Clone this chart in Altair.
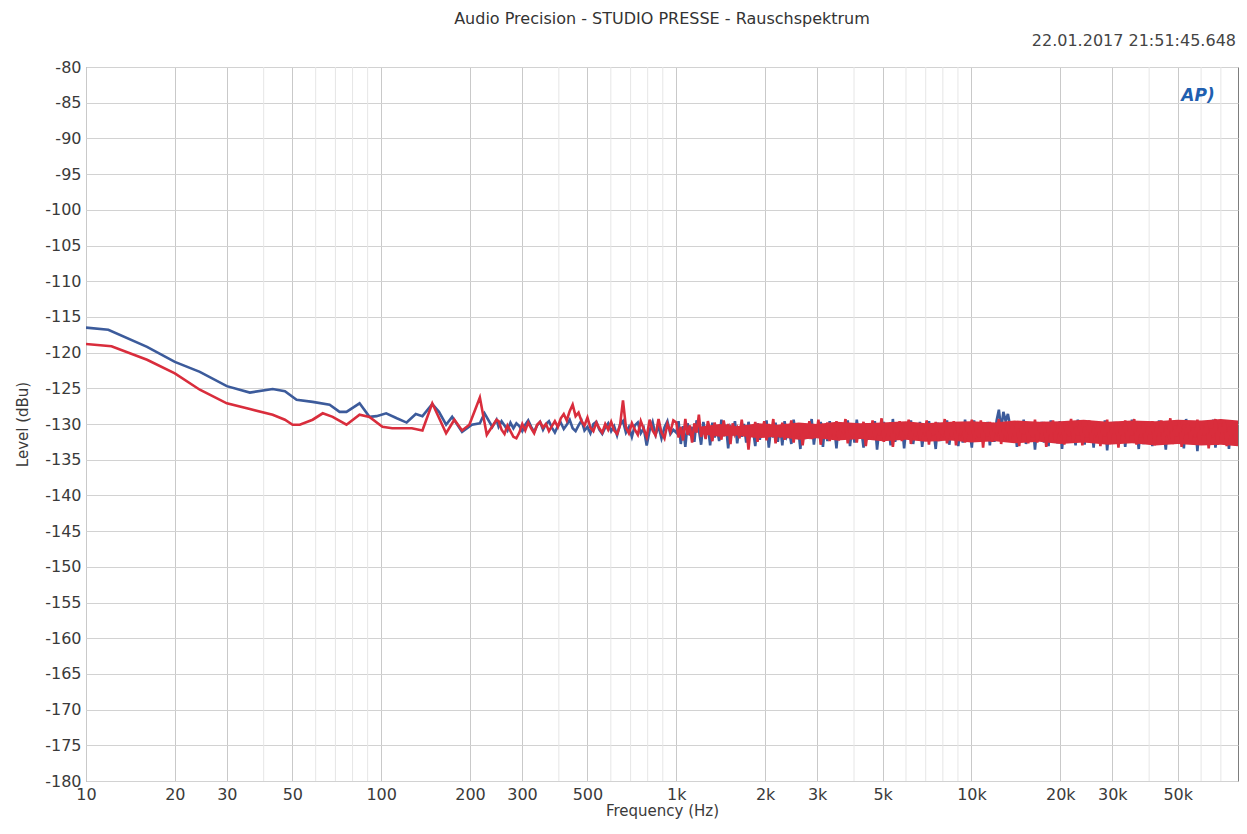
import altair as alt
import pandas as pd
import numpy as np

title_text = "Audio Precision - STUDIO PRESSE - Rauschspektrum"
timestamp_text = "22.01.2017 21:51:45.648"
x_title = "Frequency (Hz)"
y_title = "Level (dBu)"

# ---- Ch1 (blue), low-frequency part
blue_lf_freq = [10, 11.9, 16.1, 20.0, 24.3, 30.0, 35.9, 42.9, 47.2, 51.7,
                58.6, 66.9, 72.3, 76.3, 84.5, 91.3, 96.5, 104, 113, 122,
                131, 138, 149, 157, 166, 174, 188, 203, 216, 224, 238, 246]
blue_lf_level = [-116.5, -116.8, -119.2, -121.3, -122.7, -124.7, -125.6, -125.1, -125.4, -126.6,
                 -126.9, -127.3, -128.3, -128.3, -127.1, -129.0, -128.9, -128.5, -129.2, -129.8,
                 -128.6, -128.9, -127.2, -128.3, -130.1, -129.0, -131.1, -130.1, -129.9, -128.5,
                 -130.4, -129.4]

# ---- Ch2 (red), low-frequency part
red_lf_freq = [10, 12.2, 16.1, 20.0, 24.3, 30.0, 35.9, 42.9, 47.2, 50.1,
               53, 58.6, 63.4, 68.5, 76.3, 84.5, 91.3, 101, 109, 127,
               138, 149, 166, 177, 188, 199, 216, 228, 246]
red_lf_level = [-118.8, -119.1, -121.0, -122.9, -125.2, -127.1, -127.9, -128.7, -129.4, -130.1,
                -130.1, -129.4, -128.5, -129.0, -130.1, -128.7, -129.0, -130.4, -130.6, -130.6,
                -130.9, -127.1, -131.3, -129.4, -130.9, -130.1, -126.3, -131.5, -129.4]

# ---- FFT bins 250 Hz .. 1 kHz (levels)
blue_mid = [-130.4, -129.6, -130.2, -130.9, -129.8, -130.6, -129.9, -130.3, -131.0, -130.1,
            -129.5, -130.4, -131.1, -130.2, -129.7, -130.8, -130.0, -129.6, -130.5, -131.2,
            -130.3, -129.8, -130.7, -130.1, -129.4, -130.6, -131.0, -130.2, -129.5, -130.9,
            -130.4, -131.3, -130.0, -129.7, -130.8, -131.4, -130.5, -129.9, -131.0, -130.3,
            -131.6, -130.1, -129.6, -131.2, -130.4, -131.8, -130.2, -129.8, -131.3, -130.6,
            -133.0, -130.9, -129.7, -131.5, -130.3, -132.0, -130.5, -129.6, -131.4, -130.8]
red_mid = [-129.6, -130.8, -131.4, -130.2, -131.0, -131.8, -132.0, -131.2, -130.0, -130.9,
           -129.8, -130.6, -131.3, -130.1, -129.7, -130.5, -130.0, -131.0, -130.3, -129.6,
           -130.4, -129.2, -128.6, -129.5, -128.2, -127.3, -128.9, -128.4, -129.6, -130.2,
           -129.1, -130.5, -131.0, -129.8, -130.6, -131.2, -130.0, -130.8, -129.7, -130.9,
           -131.4, -130.2, -126.7, -130.5, -131.3, -129.9, -130.8, -131.5, -129.6, -130.7,
           -131.8, -129.4, -130.9, -131.6, -129.3, -131.2, -132.0, -130.0, -131.1, -129.5]

# ---- FFT bins 1 kHz .. 80 kHz
blue_hf = [-131.2, -129.6, -132.8, -130.3, -133.2, -129.9, -131.6, -130.4, -132.5, -129.5,
           -130.8, -132.9, -129.7, -131.5, -130.2, -133.0, -129.8, -131.9, -130.6, -132.4,
           -129.4, -131.7, -130.1, -133.4, -130.5, -131.2, -129.6, -132.7, -130.3, -131.8,
           -130.0, -132.6, -129.7, -131.4, -130.8, -133.1, -129.9, -132.2, -130.4, -131.6,
           -129.5, -133.3, -130.6, -131.9, -129.8, -132.5, -130.2, -133.0, -129.6, -131.7,
           -130.9, -132.8, -129.4, -131.3, -130.5, -133.5, -129.9, -132.1, -130.7, -131.5,
           -129.3, -132.9, -130.4, -131.8, -129.7, -133.2, -130.1, -132.4, -129.6, -131.6,
           -130.3, -133.4, -129.8, -132.0, -130.6, -131.4, -129.5, -133.1, -130.2, -132.6,
           -129.4, -131.9, -130.7, -133.3, -129.9, -132.2, -130.4, -131.5, -129.6, -133.6,
           -130.5, -132.3, -129.7, -131.8, -130.1, -133.0, -129.3, -132.5, -130.8, -131.4,
           -129.8, -133.4, -130.2, -131.7, -129.5, -132.8, -130.6, -131.9, -129.7, -133.2,
           -130.4, -132.1, -129.6, -131.5, -130.9, -133.5, -129.8, -132.4, -130.3, -131.8,
           -129.5, -132.9, -130.7, -131.3, -129.9, -133.1, -130.2, -132.6, -129.4, -131.9,
           -130.6, -133.3, -129.5, -131.8, -130.3, -132.2, -130.5, -131.6, -129.7, -133.0,
           -130.1, -132.5, -129.5, -128.0, -130.8, -128.3, -129.6, -128.6, -130.3, -131.5,
           -129.9, -133.2, -130.4, -131.7, -129.4, -132.8, -130.6, -132.3, -129.8, -133.6,
           -130.2, -131.9, -129.7, -132.6, -130.5, -133.1, -129.5, -131.4, -130.9, -132.7,
           -129.6, -133.5, -130.3, -131.8, -129.9, -132.4, -130.7, -133.0, -129.4, -131.6,
           -130.4, -132.9, -129.8, -131.5, -130.1, -133.3, -129.6, -132.2, -130.6, -131.9,
           -129.5, -133.7, -130.2, -132.0, -129.7, -132.6, -130.8, -131.4, -129.9, -133.2,
           -130.3, -132.4, -129.4, -131.7, -130.6, -133.5, -129.8, -132.8, -130.1, -131.6,
           -129.7, -133.1, -130.5, -132.3, -129.5, -131.9, -130.9, -133.6, -129.6, -132.1,
           -130.2, -132.7, -129.8, -131.5, -130.4, -133.4, -129.3, -132.5, -130.7, -131.8,
           -129.6, -133.8, -130.1, -132.2, -129.9, -132.9, -130.5, -131.6, -129.4, -133.3,
           -130.6, -132.6, -129.7, -131.9, -130.2, -133.5, -129.8, -132.4, -130.3, -132.0]
red_hf = [-129.8, -131.9, -130.4, -132.3, -129.3, -131.5, -130.2, -132.6, -129.9, -131.2,
          -128.7, -131.8, -130.5, -132.1, -129.6, -130.9, -132.4, -129.8, -131.6, -130.3,
          -132.2, -129.5, -131.3, -130.0, -132.8, -129.9, -131.4, -130.6, -132.0, -129.4,
          -131.7, -130.2, -133.6, -130.4, -131.8, -129.7, -132.5, -130.1, -131.1, -129.6,
          -132.3, -130.0, -131.5, -129.3, -132.7, -130.6, -131.9, -129.8, -132.2, -130.5,
          -131.2, -129.5, -132.6, -130.3, -131.7, -129.9, -133.0, -130.7, -131.4, -129.6,
          -132.1, -130.2, -131.6, -129.4, -132.9, -130.5, -131.3, -129.8, -132.4, -130.1,
          -131.8, -129.6, -132.3, -130.4, -131.1, -129.3, -132.7, -130.8, -131.5, -129.9,
          -132.6, -130.1, -131.4, -129.7, -133.1, -130.6, -131.9, -129.5, -132.2, -130.3,
          -131.6, -129.2, -132.5, -130.0, -131.8, -129.8, -133.2, -130.4, -131.3, -129.6,
          -132.4, -130.7, -131.5, -129.4, -132.8, -130.2, -131.7, -129.9, -132.1, -130.5,
          -131.2, -129.5, -132.9, -130.3, -131.6, -129.7, -132.4, -130.8, -131.4, -129.3,
          -132.7, -130.1, -131.8, -129.6, -133.0, -130.5, -131.3, -129.8, -132.6, -130.2,
          -131.5, -129.4, -132.3, -130.6, -131.9, -129.5, -133.3, -130.0, -131.7, -129.7,
          -132.5, -130.4, -131.2, -129.3, -132.8, -130.7, -131.6, -129.9, -132.2, -130.1,
          -131.8, -129.6, -133.1, -130.3, -131.4, -129.8, -132.7, -130.5, -131.9, -129.4,
          -132.6, -130.2, -131.5, -129.7, -133.2, -130.0, -131.8, -129.5, -132.4, -130.6,
          -131.3, -129.8, -132.9, -130.1, -131.7, -129.3, -132.5, -130.4, -131.6, -129.6,
          -133.0, -130.3, -131.9, -129.5, -132.6, -130.7, -131.4, -129.8, -133.1, -130.2,
          -131.7, -129.4, -132.8, -130.5, -131.5, -129.7, -133.3, -130.1, -131.8, -129.5,
          -132.4, -130.6, -131.6, -129.3, -132.9, -130.2, -131.9, -129.8, -132.7, -130.4,
          -131.4, -129.6, -133.0, -130.0, -131.8, -129.5, -132.6, -130.7, -131.5, -129.2,
          -132.8, -130.3, -131.7, -129.6, -133.2, -130.1, -131.4, -129.9, -132.5, -130.5,
          -131.9, -129.4, -132.7, -130.2, -131.6, -129.7, -133.4, -130.6, -131.8, -129.3,
          -132.9, -130.0, -131.5, -129.5, -133.1, -130.4, -132.0, -129.8, -132.6, -130.3]

# ---- solid core of the dense red band
band_freq = [1200, 1400, 1600, 1900, 2200, 2600, 3000, 3500, 4200, 5000,
             6000, 7000, 8500, 10000, 12000, 14000, 17000, 20000, 24000, 29000,
             35000, 42000, 50000, 60000, 70000, 80000]
band_upper = [-130.4, -130.0, -130.3, -129.9, -130.1, -129.8, -130.0, -129.7, -129.9, -129.8,
              -129.6, -129.9, -129.7, -129.6, -129.8, -129.5, -129.7, -129.6, -129.4, -129.7,
              -129.5, -129.6, -129.4, -129.5, -129.3, -129.5]
band_lower = [-131.4, -131.8, -131.6, -132.0, -131.8, -132.2, -132.0, -132.3, -132.1, -132.4,
              -132.2, -132.5, -132.3, -132.6, -132.4, -132.7, -132.5, -132.8, -132.6, -132.9,
              -132.7, -133.0, -132.8, -133.0, -132.9, -133.1]

mid_band = [250, 1000]
hf_band = [1000, 80000]

x_domain = [10, 80000]
y_domain = [-180, -80]
x_label_ticks = [10, 20, 30, 50, 100, 200, 300, 500, 1000, 2000, 3000, 5000,
                 10000, 20000, 30000, 50000]
x_minor_grid = [40, 60, 70, 80, 90, 400, 600, 700, 800, 900,
                4000, 6000, 7000, 8000, 9000, 40000, 60000, 70000]
y_ticks = list(range(-180, -79, 5))

BLUE = "#3c5b9b"
RED = "#d92d3c"
FONT = "DejaVu Sans"


def build(lf_f, lf_l, mid, hf, ch):
    f_mid = np.geomspace(mid_band[0], mid_band[1], len(mid), endpoint=False)
    f_hf = np.geomspace(hf_band[0], hf_band[1], len(hf))
    freq = list(lf_f) + list(f_mid) + list(f_hf)
    level = list(lf_l) + list(mid) + list(hf)
    return pd.DataFrame({"freq": freq, "level": level, "ch": ch, "i": range(len(freq))})


blue_df = build(blue_lf_freq, blue_lf_level, blue_mid, blue_hf, "Ch1")
red_df = build(red_lf_freq, red_lf_level, red_mid, red_hf, "Ch2")
band_df = pd.DataFrame({"freq": band_freq, "level": band_upper, "level2": band_lower})

xs = alt.Scale(type="log", domain=x_domain, nice=False)
ys = alt.Scale(domain=y_domain, nice=False, zero=False)

x_axis = alt.Axis(
    values=x_label_ticks,
    labelExpr="datum.value >= 1000 ? format(datum.value / 1000, 'd') + 'k' : format(datum.value, 'd')",
    grid=True, gridColor="#c9c9c9", ticks=False, domain=False,
    labelPadding=5, title=x_title, titlePadding=1,
    labelFlush=False, labelOverlap=False,
)
y_axis = alt.Axis(
    values=y_ticks, labelExpr="'' + datum.value", grid=True, gridColor="#d2d2d2",
    ticks=False, domain=False, labelPadding=5, title=y_title, titlePadding=14,
)

x_enc = alt.X("freq:Q", scale=xs, axis=x_axis)
y_enc = alt.Y("level:Q", scale=ys, axis=y_axis)

minor = alt.Chart(pd.DataFrame({"freq": x_minor_grid})).mark_rule(
    color="#e6e6e6", strokeWidth=1
).encode(x=x_enc)

blue_line = alt.Chart(blue_df).mark_line(color=BLUE, strokeWidth=2.6, clip=True).encode(
    x=x_enc, y=y_enc, order="i:Q"
)
red_band = alt.Chart(band_df).mark_area(color=RED, opacity=1, clip=True).encode(
    x=x_enc, y=y_enc, y2="level2:Q"
)
red_line = alt.Chart(red_df).mark_line(color=RED, strokeWidth=2.6, clip=True).encode(
    x=x_enc, y=y_enc, order="i:Q"
)

title_mark = alt.Chart(pd.DataFrame({"t": [title_text]})).mark_text(
    font=FONT, fontSize=16, color="#333333", align="center", baseline="alphabetic"
).encode(text="t:N", x=alt.value(576), y=alt.value(-43))

stamp_mark = alt.Chart(pd.DataFrame({"t": [timestamp_text]})).mark_text(
    font=FONT, fontSize=16, color="#444444", align="right", baseline="alphabetic"
).encode(text="t:N", x=alt.value(1150), y=alt.value(-21))

logo_mark = alt.Chart(pd.DataFrame({"t": ["AP)"]})).mark_text(
    font=FONT, fontSize=17, fontWeight="bold", fontStyle="italic", color="#1f5fb0",
    align="center", baseline="middle"
).encode(text="t:N", x=alt.value(1112), y=alt.value(29))

chart = alt.layer(minor, blue_line, red_band, red_line, title_mark, stamp_mark, logo_mark).properties(
    width=1152, height=714,
    autosize=alt.AutoSizeParams(type="none"),
    padding={"left": 78, "top": 59, "right": 1, "bottom": 44},
    background="white",
).configure_view(
    stroke="#7d7d7d", strokeWidth=1
).configure_axis(
    labelFont=FONT, labelFontSize=16, labelColor="#3a3a3a",
    titleFont=FONT, titleFontSize=15, titleColor="#3a3a3a", titleFontWeight="normal",
)

chart.save("out.html", embed_options={"renderer": "svg", "actions": False})
